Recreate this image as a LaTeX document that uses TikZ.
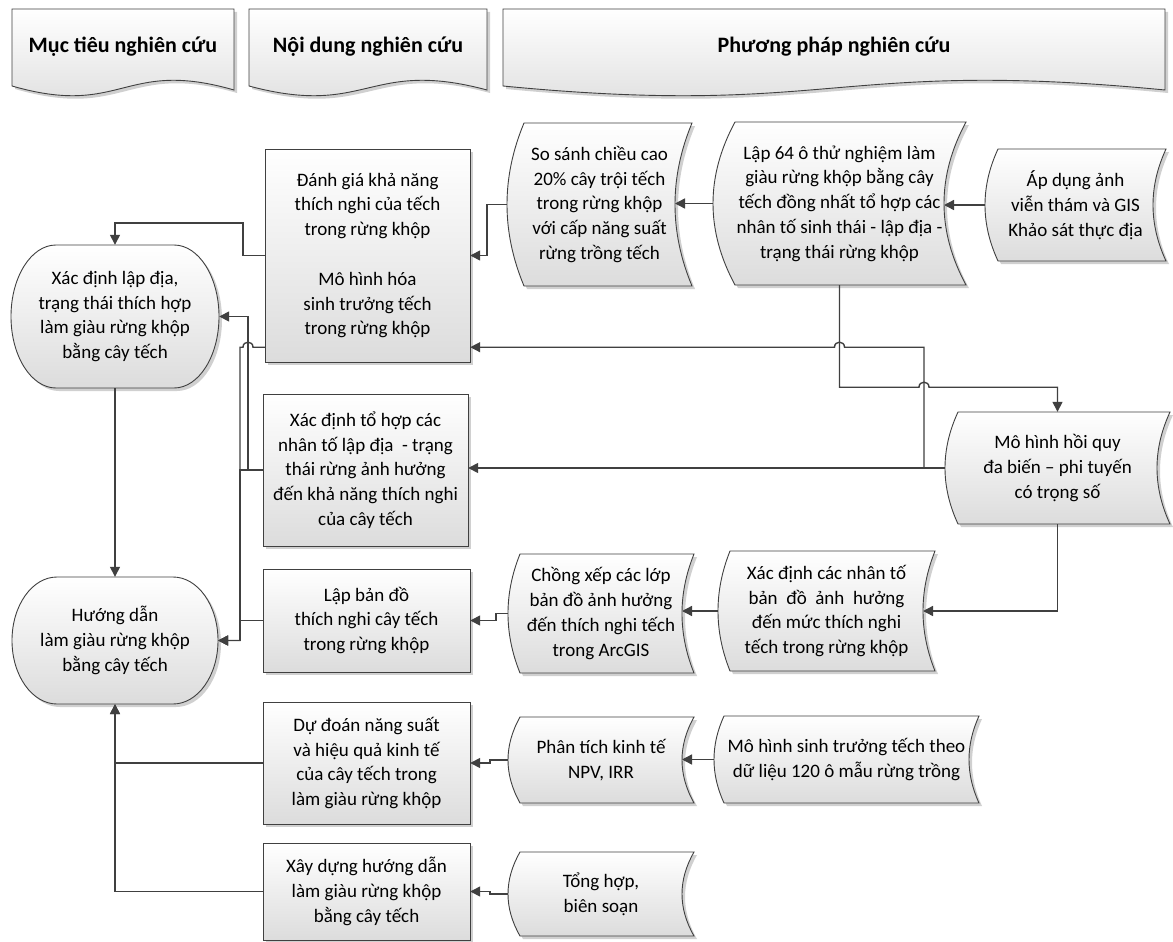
\documentclass[tikz,border=0pt]{standalone}
\usepackage{fontspec}
\setmainfont{Carlito}
\usetikzlibrary{arrows.meta,calc}
\definecolor{lc}{RGB}{64,64,64}
\definecolor{bot}{RGB}{220,220,220}
\definecolor{shd}{RGB}{208,208,208}
\tikzset{
  shapeline/.style={draw=lc, line width=0.9pt, top color=white, bottom color=bot},
  txt/.style={align=center, inner sep=0pt, font=\fontsize{19}{24.8}\selectfont, text=black},
  hdr/.style={align=center, inner sep=0pt, font=\fontsize{22}{26}\selectfont\bfseries, text=black},
  conn/.style={draw=lc, line width=1.4pt},
  arr/.style={conn, -{Triangle[length=10pt,width=10pt]}},
}
% stored-data outline: x0 y0 x1 y1 bulge
\newcommand\sdpath[5]{(#1,#2) -- (#3,#2) .. controls ({#3-4/3*#5},{#2+(#4-#2)/3}) and ({#3-4/3*#5},{#4-(#4-#2)/3}) .. (#3,#4) -- (#1,#4) .. controls ({#1-4/3*#5},{#4-(#4-#2)/3}) and ({#1-4/3*#5},{#2+(#4-#2)/3}) .. cycle}
\newcommand\SDBox[7]{%
  \fill[shd, shift={(3,3)}] \sdpath{#2}{#3}{#4}{#5}{#6};
  \path[shapeline] \sdpath{#2}{#3}{#4}{#5}{#6};
  \node[txt, minimum width={#4-#2+#6}, minimum height={#5-#3}] (#1) at ({(#2-#6+#4)/2},{(#3+#5)/2}) {#7};
  \coordinate (#1-r) at ({#4-#6},{(#3+#5)/2});
}
\newcommand\RectBox[6]{%
  \fill[shd] ({#2+3},{#3+3}) rectangle ({#4+3},{#5+3});
  \path[shapeline] (#2,#3) rectangle (#4,#5);
  \node[txt, minimum width={#4-#2}, minimum height={#5-#3}] (#1) at ({(#2+#4)/2},{(#3+#5)/2}) {#6};
}
% terminator: x0 y0 x1 y1, rx=45
\newcommand\termpath[4]{({#1+45},#2) -- ({#3-45},#2) .. controls ({#3-45+0.5523*45},#2) and (#3,{(#2+#4)/2-0.5523*(#4-#2)/2}) .. (#3,{(#2+#4)/2}) .. controls (#3,{(#2+#4)/2+0.5523*(#4-#2)/2}) and ({#3-45+0.5523*45},#4) .. ({#3-45},#4) -- ({#1+45},#4) .. controls ({#1+45-0.5523*45},#4) and (#1,{(#2+#4)/2+0.5523*(#4-#2)/2}) .. (#1,{(#2+#4)/2}) .. controls (#1,{(#2+#4)/2-0.5523*(#4-#2)/2}) and ({#1+45-0.5523*45},#2) .. cycle}
\newcommand\TermBox[6]{%
  \fill[shd, shift={(3,3)}] \termpath{#2}{#3}{#4}{#5};
  \path[shapeline] \termpath{#2}{#3}{#4}{#5};
  \node[txt, minimum width={#4-#2}, minimum height={#5-#3}] (#1) at ({(#2+#4)/2},{(#3+#5)/2}) {#6};
}
% document header: x0 y0 x1
\newcommand\docpath[3]{(#1,#2) -- (#3,#2) -- (#3,{#2+81}) .. controls ({(#1+#3)/2},{#2+49}) and ({(#1+#3)/2},{#2+109}) .. (#1,{#2+77}) -- cycle}
\newcommand\DocBox[5]{%
  \fill[shd, shift={(3,3)}] \docpath{#2}{#3}{#4};
  \path[shapeline] \docpath{#2}{#3}{#4};
  \node[hdr] (#1) at ({(#2+#4)/2},47) {#5};
}
\begin{document}
\begin{tikzpicture}[x=1pt,y=-1pt]
\useasboundingbox[fill=white] (0,0) rectangle (1173,942);

% headers
\DocBox{h1}{12}{9}{234}{Mục tiêu nghiên cứu}
\DocBox{h2}{249}{9}{487}{Nội dung nghiên cứu}
\DocBox{h3}{503}{9}{1165}{Phương pháp nghiên cứu}

% objectives
\TermBox{xdld}{11}{245}{219}{388}{Xác định lập địa,\\trạng thái thích hợp\\làm giàu rừng khộp\\bằng cây tếch}
\TermBox{hd}{12}{577}{218}{704}{Hướng dẫn\\làm giàu rừng khộp\\bằng cây tếch}

% contents
\RectBox{dg}{265}{149}{470}{362}{Đánh giá khả năng\\thích nghi của tếch\\trong rừng khộp\\[24.8pt]Mô hình hóa\\sinh trưởng tếch\\trong rừng khộp}
\RectBox{xdth}{263}{394}{468}{546}{Xác định tổ hợp các\\nhân tố lập địa\ \ - trạng\\thái rừng ảnh hưởng\\đến khả năng thích nghi\\của cây tếch}
\RectBox{lbd}{263}{569}{470}{672}{Lập bản đồ\\thích nghi cây tếch\\trong rừng khộp}
\RectBox{dd}{263}{702}{470}{824}{Dự đoán năng suất\\và hiệu quả kinh tế\\của cây tếch trong\\làm giàu rừng khộp}
\RectBox{xd}{263}{843}{470}{940}{Xây dựng hướng dẫn\\làm giàu rừng khộp\\bằng cây tếch}

% methods
\SDBox{ss}{524}{123}{692}{286}{17}{So sánh chiều cao\\20\% cây trội tếch\\trong rừng khộp\\với cấp năng suất\\rừng trồng tếch}
\SDBox{l64}{735}{122}{966}{285}{22}{Lập 64 ô thử nghiệm làm\\giàu rừng khộp bằng cây\\tếch đồng nhất tổ hợp các\\nhân tố sinh thái - lập địa -\\trạng thái rừng khộp}
\SDBox{ad}{998}{149}{1166}{261}{13}{Áp dụng ảnh\\viễn thám và GIS\\Khảo sát thực địa}
\SDBox{mh}{958}{412}{1170}{524}{13}{Mô hình hồi quy\\đa biến – phi tuyến\\có trọng số}
\SDBox{xdnt}{730}{551}{935}{671}{12}{Xác định các nhân tố\\bản\ \ đồ\ \ ảnh\ \ hưởng\\đến mức thích nghi\\tếch trong rừng khộp}
\SDBox{cx}{520}{554}{694}{673}{12}{Chồng xếp các lớp\\bản đồ ảnh hưởng\\đến thích nghi tếch\\trong ArcGIS}
\SDBox{pt}{520}{717}{694}{803}{12}{Phân tích kinh tế\\NPV, IRR}
\SDBox{th}{520}{852}{694}{936}{12}{Tổng hợp,\\biên soạn}
\SDBox{mhst}{724}{716}{979}{803}{10}{Mô hình sinh trưởng tếch theo\\dữ liệu 120 ô mẫu rừng trồng}

% helper x positions
\coordinate (jx) at (924,0);
\coordinate (vA) at (248,0);
\coordinate (vB) at (240,0);

% connectors, methods side
\draw[arr] (ad.west) -- (ad.west -| l64-r);
\draw[arr] (l64.west) -- (l64.west -| ss-r);
\draw[arr] (ss.west) -- ++(-20,0) |- (dg.east);
\draw[arr] (l64.south) -- ++(0,102) coordinate (d1) -- ($(d1 -| jx)+(-5,0)$) .. controls +(0,-6.7) and +(0,-6.7) .. ($(d1 -| jx)+(5,0)$) -| (mh.north);
\coordinate (e1) at ($(dg.south east)+(0,-15)$);
\draw[arr] (mh.west) -| (e1 -| jx) -- ($(e1 -| l64.south)+(5,0)$) .. controls +(0,-6.7) and +(0,-6.7) .. ($(e1 -| l64.south)+(-5,0)$) -- (e1);
\draw[arr] (mh.west) -- (mh.west -| xdth.east);
\draw[arr] (mh.south) |- (xdnt-r);
\draw[arr] (xdnt.west) -- (xdnt.west -| cx-r);
\draw[arr] (cx.west) -- ++(-12,0) |- (lbd.east);
\draw[arr] (mhst.west) -- (mhst.west -| pt-r);
\draw[arr] (pt.west) -- ++(-18,0) |- (dd.east);
\draw[arr] (th.west) -- ++(-18,0) |- (xd.east);

% connectors, left side
\draw[arr] (xdld.south) -- (hd.north);
\draw[arr] (dd.west) -| (hd.south);
\draw[arr] (xd.west) -| (hd.south);
\draw[arr] (dg.west) -- ++(-22,0) |- ($(xdld.north)+(0,-22)$) -- (xdld.north);
\coordinate (q0) at ($(dg.south west)+(0,-15)$);
\draw[arr] (q0) -- ($(q0 -| vA)+(5,0)$) .. controls +(0,-6.7) and +(0,-6.7) .. ($(q0 -| vA)+(-5,0)$) -- (q0 -| vB) |- (hd.east);
\draw[arr] (xdth.west) -- (xdth.west -| vA) |- (xdld.east);
\draw[arr] (xdth.west) -- (xdth.west -| vB) |- (hd.east);
\draw[arr] (lbd.west) -- (lbd.west -| vB) |- (hd.east);
\end{tikzpicture}
\end{document}
